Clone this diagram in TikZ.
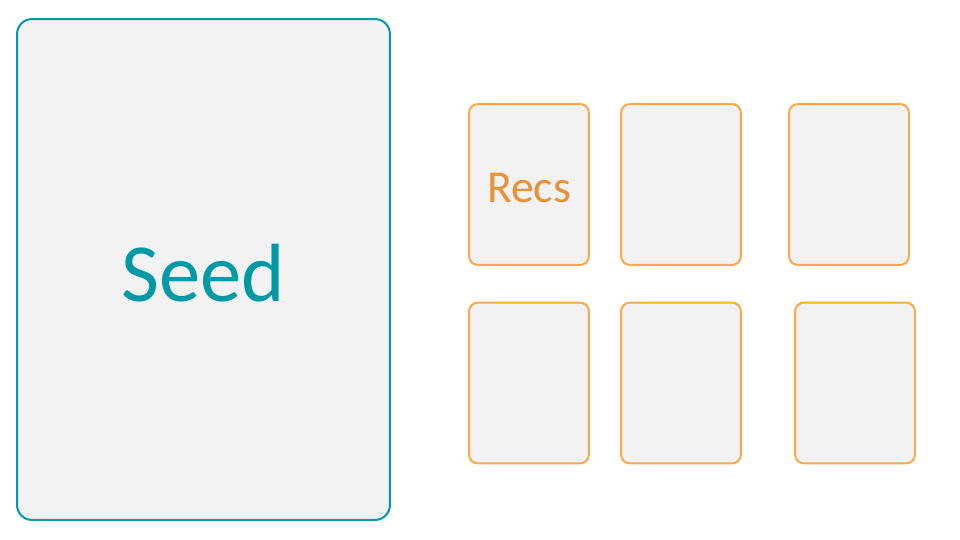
\documentclass[tikz,border=0pt]{standalone}
\usepackage{fontspec}
\setmainfont{Carlito}
\usepackage{xcolor}
\usepackage{tikz}
\usetikzlibrary{shapes}
\definecolor{seedTeal}{HTML}{0099A5}
\definecolor{recsOrange}{HTML}{F9A84A}
\definecolor{recsText}{HTML}{E8913A}
\definecolor{cardFill}{HTML}{F2F2F2}
\tikzstyle{tsCard} = [
    rectangle,
    fill=cardFill,
    inner sep=0pt,
    line width=0.04cm,
    rounded corners=0.18cm
]
\tikzstyle{tsSeed} = [
    tsCard,
    draw=seedTeal,
    text=seedTeal,
    rounded corners=0.3cm,
    font=\fontsize{47}{50}\selectfont,
    text height=1.28cm,
    text depth=0cm,
    minimum width=7.46cm,
    minimum height=10.02cm
]
\tikzstyle{tsRecs} = [
    tsCard,
    draw=recsOrange,
    text=recsText,
    font=\fontsize{26}{30}\selectfont,
    text height=0.71cm,
    text depth=0cm,
    minimum width=2.4cm,
    minimum height=3.22cm
]
\begin{document}
\begin{tikzpicture}[x=0.02cm, y=-0.02cm]
    \useasboundingbox (0,0) rectangle (960,540);

    % Seed card
    \node[tsSeed] (seed) at (203.5, 269.5) {Seed};

    % Recommendation cards, top row
    \node[tsRecs] (rec1) at (529, 184.5) {Recs};
    \node[tsRecs] (rec2) at (681, 184.5) {};
    \node[tsRecs] (rec3) at (849, 184.5) {};

    % Recommendation cards, bottom row
    \node[tsRecs] (rec4) at (529, 383) {};
    \node[tsRecs] (rec5) at (681, 383) {};
    \node[tsRecs] (rec6) at (855, 383) {};
\end{tikzpicture}
\end{document}
